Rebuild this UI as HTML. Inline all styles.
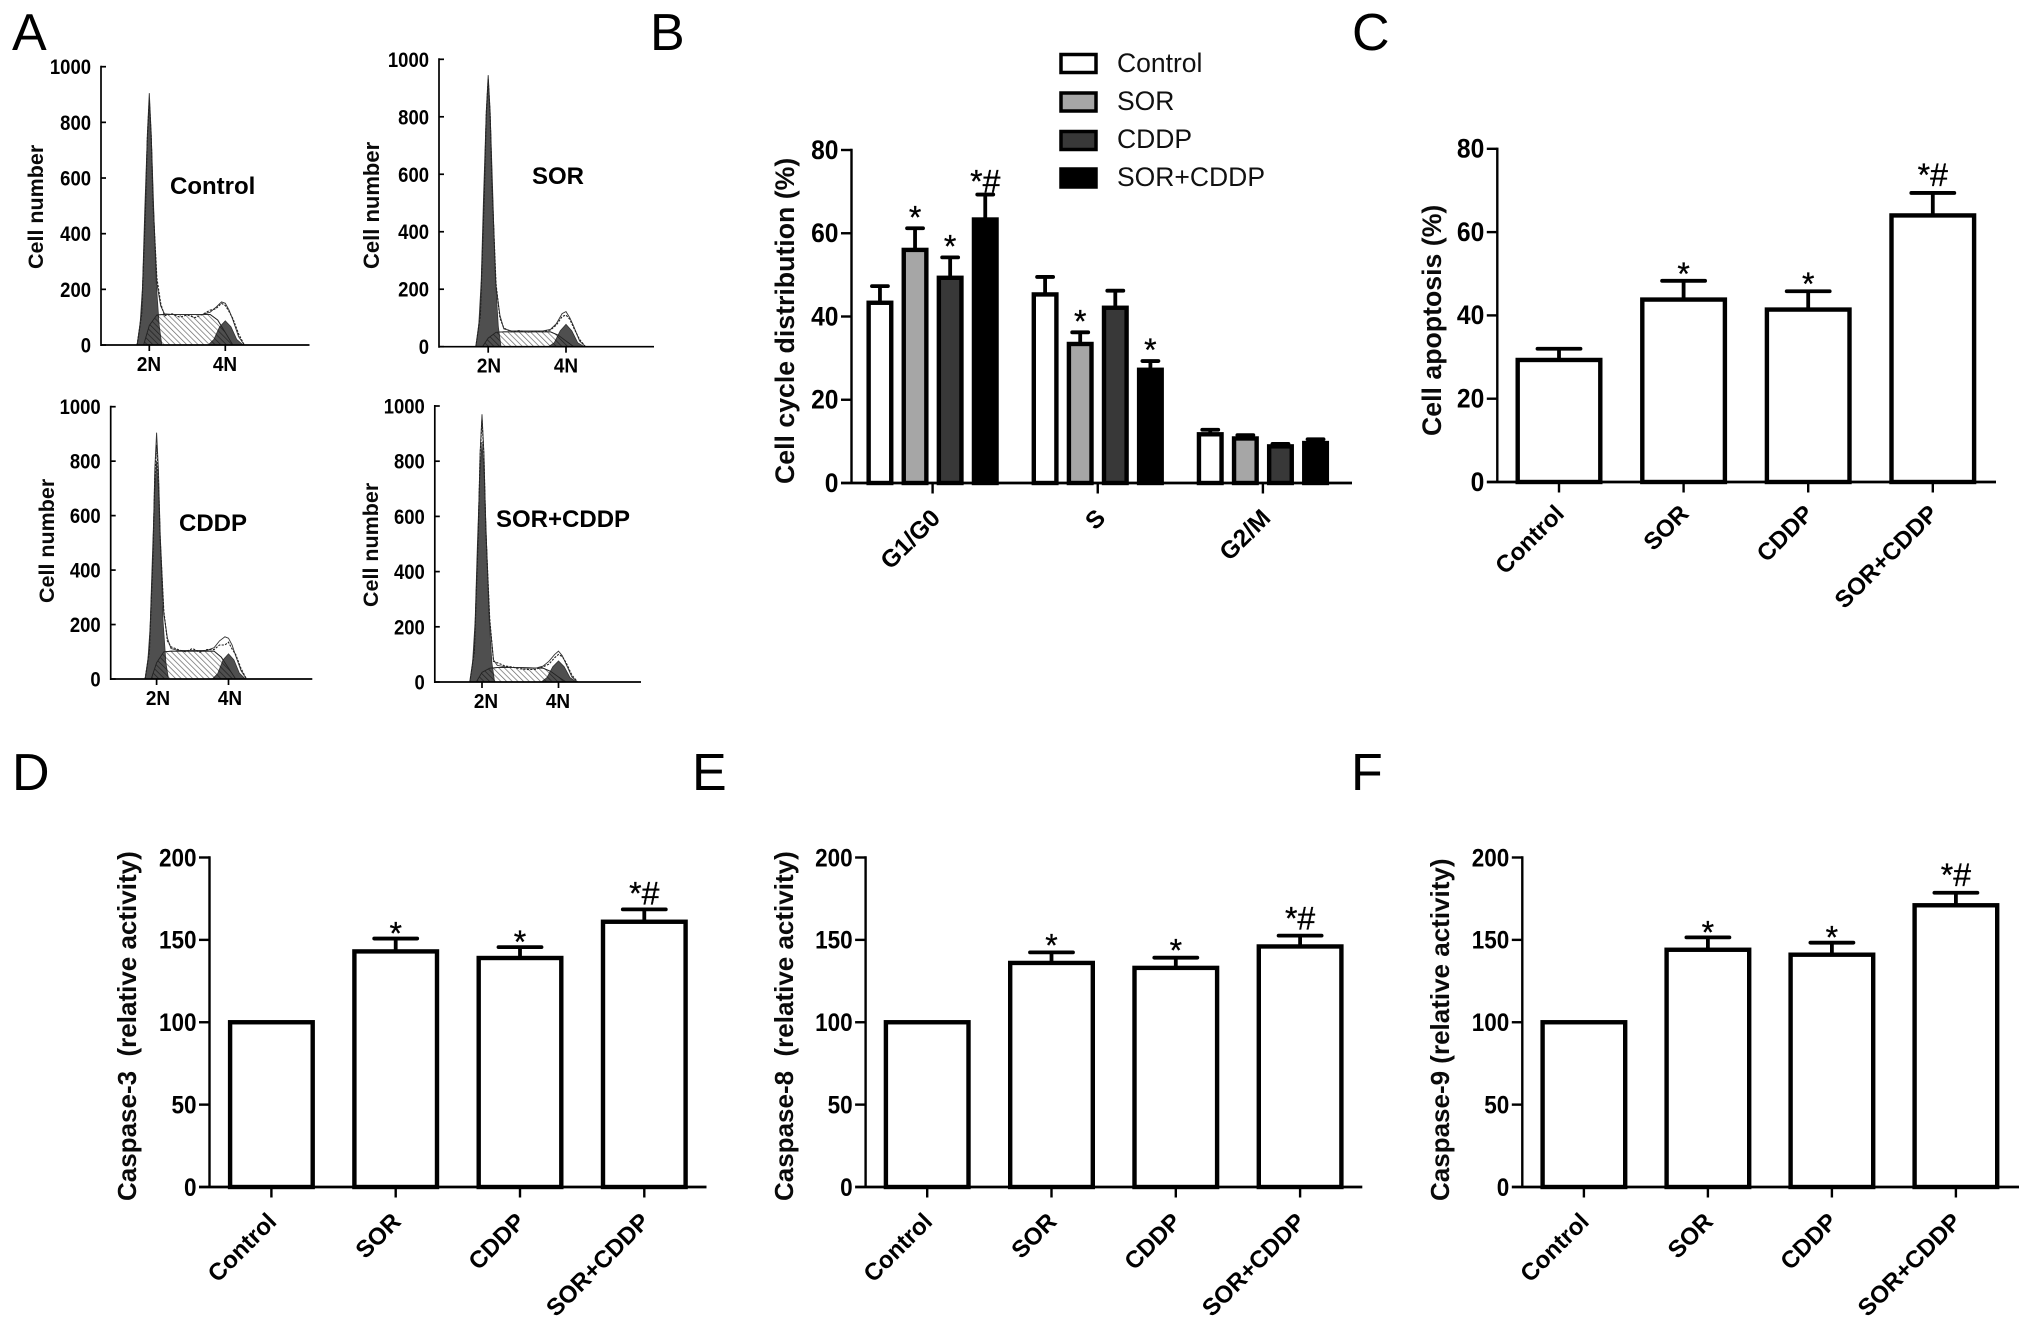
<!DOCTYPE html>
<html lang="en">
<head>
<meta charset="utf-8">
<title>Cell cycle, apoptosis and caspase activity figure</title>
<style>
html,body{margin:0;padding:0;background:#fff;}
svg{display:block;font-family:"Liberation Sans",Arial,sans-serif;}
.letter{font-size:52px;fill:#000;}
.ytitle{font-size:26px;font-weight:bold;fill:#0a0a0a;}
.atitle{font-size:21.5px;font-weight:bold;fill:#0a0a0a;}
.alabel{font-size:24px;font-weight:bold;fill:#000;}
.legend{font-size:26.5px;fill:#111;}
</style>
</head>
<body>
<svg id="figure" width="2031" height="1329" viewBox="0 0 2031 1329" xmlns="http://www.w3.org/2000/svg">
<defs>
<pattern id="hatch" patternUnits="userSpaceOnUse" width="4" height="4" patternTransform="rotate(-45)">
<line x1="0" y1="0" x2="0" y2="4" stroke="#000" stroke-opacity="0.6" stroke-width="1.4"/>
</pattern>
</defs>
<rect x="0" y="0" width="2031" height="1329" fill="#fff"/>

<text class="letter" x="12" y="50">A</text>
<text class="letter" x="650" y="50">B</text>
<text class="letter" x="1352" y="50">C</text>
<text class="letter" x="12" y="790">D</text>
<text class="letter" x="692" y="790">E</text>
<text class="letter" x="1351" y="790">F</text>

<text class="atitle" transform="translate(43,269) rotate(-90)">Cell number</text>
<text class="atitle" style="font-size:22px" transform="translate(379,269) rotate(-90)">Cell number</text>
<text class="atitle" transform="translate(54,603) rotate(-90)">Cell number</text>
<text class="atitle" transform="translate(378,607) rotate(-90)">Cell number</text>
<text class="alabel" x="170" y="194">Control</text>
<text class="alabel" x="532" y="184">SOR</text>
<text class="alabel" x="179" y="531">CDDP</text>
<text class="alabel" x="496" y="527">SOR+CDDP</text>

<text class="ytitle" style="font-size:26.7px" transform="translate(794,484) rotate(-90)">Cell cycle distribution (%)</text>
<text class="ytitle" style="font-size:26.7px" transform="translate(1441,436) rotate(-90)">Cell apoptosis (%)</text>
<text class="ytitle" transform="translate(136,1201) rotate(-90)">Caspase-3&#160;&#160;(relative activity)</text>
<text class="ytitle" transform="translate(793,1201) rotate(-90)">Caspase-8&#160;&#160;(relative activity)</text>
<text class="ytitle" transform="translate(1449,1201) rotate(-90)">Caspase-9 (relative activity)</text>

<g>
<rect x="1061" y="54.5" width="35" height="18" fill="#fff" stroke="#000" stroke-width="3.5"/>
<text class="legend" x="1117" y="72">Control</text>
<rect x="1061" y="93" width="35" height="18" fill="#a6a6a6" stroke="#000" stroke-width="3.5"/>
<text class="legend" x="1117" y="110">SOR</text>
<rect x="1061" y="131.5" width="35" height="18" fill="#383838" stroke="#000" stroke-width="3.5"/>
<text class="legend" x="1117" y="148">CDDP</text>
<rect x="1061" y="169" width="35" height="18" fill="#000" stroke="#000" stroke-width="3.5"/>
<text class="legend" x="1117" y="186">SOR+CDDP</text>
</g>
</svg>

<script>
// ---------- Bar chart data ----------
const groupLabels = ['Control', 'SOR', 'CDDP', 'SOR+CDDP'];
const significance = ['', '*', '*', '*#'];

const apoptosisTicks = [0, 20, 40, 60, 80];
const apoptosisValues = [29.3, 43.8, 41.4, 64];
const apoptosisErrors = [2.7, 4.5, 4.4, 5.4];

const caspaseTicks = [0, 50, 100, 150, 200];
const caspase3Values = [100, 143, 139, 161];
const caspase3Errors = [0, 7.8, 6.6, 7.5];
const caspase8Values = [100, 136, 133, 146];
const caspase8Errors = [0, 6.4, 6.2, 6.6];
const caspase9Values = [100, 144, 141, 171];
const caspase9Errors = [0, 7.5, 7.3, 7.6];

const cycleCategories = ['G1/G0', 'S', 'G2/M'];
const cycleTicks = [0, 20, 40, 60, 80];
const cycleControl = [43.3, 45.3, 11.7];
const cycleControlErr = [4, 4.2, 1.1];
const cycleSor = [56, 33.4, 10.7];
const cycleSorErr = [5.2, 2.8, 0.8];
const cycleCddp = [49.3, 42.1, 8.8];
const cycleCddpErr = [4.9, 4.1, 0.6];
const cycleCombo = [63.3, 27.2, 9.6];
const cycleComboErr = [6, 2.1, 0.9];
const cycleSorMarks = ['*', '*', ''];
const cycleCddpMarks = ['*', '', ''];
const cycleComboMarks = ['*#', '*', ''];

// ---------- Histogram data (x in DNA content N, y in cell number) ----------
const histTicks = [0, 200, 400, 600, 800, 1000];
const histXLabels = ['2N', '4N'];
const g1Channels = [1.68, 1.75, 1.82, 1.88, 1.94, 2, 2.06, 2.12, 2.18, 2.26, 2.33];
const sChannels = [1.85, 2, 2.2, 2.4, 3, 3.6, 3.8, 4, 4.2];
const g2Channels = [3.55, 3.7, 3.85, 4, 4.15, 4.3, 4.47];
const outlineChannels = [1.68, 1.8, 1.9, 1.95, 2, 2.05, 2.1, 2.2, 2.3, 2.4, 2.6, 2.8, 3, 3.2, 3.4, 3.6, 3.75, 3.9, 4, 4.1, 4.2, 4.35, 4.5];

const controlG1 = [0, 60, 210, 480, 720, 870, 720, 470, 230, 70, 0];
const controlS = [0, 70, 108, 110, 110, 110, 90, 45, 0];
const controlG2 = [0, 20, 65, 87, 65, 20, 0];
const controlModel = [0, 120, 500, 760, 905, 760, 520, 220, 140, 112, 110, 110, 110, 110, 110, 118, 135, 155, 150, 125, 90, 30, 0];
const controlData = [0, 110, 490, 750, 880, 750, 500, 240, 150, 105, 112, 100, 108, 98, 110, 125, 130, 150, 142, 120, 95, 40, 0];

const sorG1 = [0, 60, 230, 520, 780, 930, 780, 520, 250, 70, 0];
const sorS = [0, 30, 50, 52, 52, 52, 40, 20, 0];
const sorG2 = [0, 14, 55, 78, 55, 14, 0];
const sorModel = [0, 120, 540, 820, 945, 820, 560, 210, 110, 62, 55, 55, 55, 55, 55, 60, 80, 115, 122, 100, 70, 20, 0];
const sorData = [0, 110, 530, 810, 930, 810, 550, 220, 100, 65, 52, 56, 50, 54, 52, 58, 75, 105, 110, 95, 65, 25, 0];

const cddpG1 = [0, 55, 190, 440, 670, 800, 670, 440, 210, 60, 0];
const cddpS = [0, 60, 100, 102, 102, 102, 80, 40, 0];
const cddpG2 = [0, 20, 70, 92, 70, 22, 0];
const cddpModel = [0, 110, 470, 770, 905, 770, 530, 240, 150, 112, 105, 105, 105, 105, 105, 115, 140, 155, 150, 125, 85, 30, 0];
const cddpData = [0, 100, 450, 740, 860, 740, 510, 250, 140, 118, 108, 100, 112, 98, 108, 108, 125, 125, 135, 110, 90, 38, 0];

const comboG1 = [0, 60, 220, 500, 740, 870, 740, 500, 240, 70, 0];
const comboS = [0, 35, 50, 52, 52, 50, 38, 18, 0];
const comboG2 = [0, 16, 55, 76, 55, 16, 0];
const comboModel = [0, 120, 540, 830, 970, 830, 560, 220, 80, 60, 55, 52, 52, 50, 50, 58, 75, 100, 112, 95, 65, 18, 0];
const comboData = [0, 110, 530, 820, 950, 820, 550, 230, 75, 70, 58, 54, 48, 45, 46, 55, 65, 88, 100, 92, 70, 25, 0];

// ---------- Drawing ----------
const NS = 'http://www.w3.org/2000/svg';
const figure = document.getElementById('figure');

function make(tag, parent, attrs) {
  const el = document.createElementNS(NS, tag);
  for (const k in attrs) el.setAttribute(k, attrs[k]);
  parent.appendChild(el);
  return el;
}

function textAt(parent, str, x, y, size, weight, anchor, sx, rot) {
  const tf = 'translate(' + x + ',' + y + ')' + (rot ? ' rotate(' + rot + ')' : '') + (sx && sx !== 1 ? ' scale(' + sx + ',1)' : '');
  const el = make('text', parent, { transform: tf, 'font-size': size, 'font-weight': weight, 'text-anchor': anchor, fill: '#000' });
  el.textContent = str;
  return el;
}

function slug(s) {
  return String(s).toLowerCase().replace(/[^a-z0-9]+/g, '-');
}

function drawBar(g, prefix, cx, value, err, mark, fill, cfg, yOf) {
  const top = yOf(value);
  const s = cfg.stroke;
  const bar = make('rect', g, { x: cx - cfg.barW / 2 + s / 2, y: top, width: cfg.barW - s, height: cfg.y0 - top, fill: fill, stroke: '#000', 'stroke-width': s });
  
  
  const capY = yOf(value + err);
  if (err > 0) {
    const stem = make('line', g, { x1: cx, x2: cx, y1: top, y2: capY, stroke: '#000', 'stroke-width': 3.8 });
    
    
    const cap = make('line', g, { x1: cx - cfg.capW / 2, x2: cx + cfg.capW / 2, y1: capY, y2: capY, stroke: '#000', 'stroke-width': 3.8, 'stroke-linecap': 'round' });
    
    
  }
  if (mark) {
    const base = mark === '*' ? capY + cfg.starOffset : capY + cfg.hashOffset;
    const t = textAt(g, mark, cx, base, 32, 'normal', 'middle');
    t.setAttribute('stroke', '#000');
    t.setAttribute('stroke-width', '0.3');
    
    
  }
}

function drawAxes(g, cfg, ticks, yOf, xTicks, xLabels) {
  const yAxis = make('line', g, { x1: cfg.axisX, x2: cfg.axisX, y1: cfg.yTop - 1.2, y2: cfg.y0 + 1, stroke: '#000', 'stroke-width': 2.4 });
  
  
  const xAxis = make('line', g, { x1: cfg.axisX - 10.5, x2: cfg.xEnd, y1: cfg.y0, y2: cfg.y0, stroke: '#000', 'stroke-width': 2.7 });
  
  
  ticks.forEach(function (v) {
    const y = yOf(v);
    if (v !== 0) {
      const t = make('line', g, { x1: cfg.axisX - 10.5, x2: cfg.axisX, y1: y, y2: y, stroke: '#000', 'stroke-width': 2.4 });
      
      
    }
    const lab = textAt(g, String(v), cfg.axisX - 13, y + 8.8, cfg.tickSize, 'bold', 'end', cfg.tickSx);
    
    
  });
  xTicks.forEach(function (x, i) {
    const t = make('line', g, { x1: x, x2: x, y1: cfg.y0, y2: cfg.y0 + 10.5, stroke: '#000', 'stroke-width': 2.4 });
    
    
    const lab = textAt(g, xLabels[i], x + cfg.labelDx, cfg.y0 + cfg.labelDy, cfg.labelSize, 'bold', 'end', 1, -45);
    
    
  });
}

function drawBarPanel(name, cfg, ticks, values, errors) {
  const g = make('g', figure, {});
  
  
  const yMax = ticks[ticks.length - 1];
  const yOf = function (v) { return cfg.y0 - v / yMax * (cfg.y0 - cfg.yTop); };
  const xOf = function (i) { return cfg.x0 + i * cfg.step; };
  values.forEach(function (v, i) {
    drawBar(g, name + '-' + slug(groupLabels[i]), xOf(i), v, errors[i], significance[i], '#fff', cfg, yOf);
  });
  drawAxes(g, cfg, ticks, yOf, values.map(function (v, i) { return xOf(i); }), groupLabels);
}

function drawCyclePanel() {
  const cfg = { axisX: 851.5, xEnd: 1352, yTop: 150, y0: 483, barW: 27, capW: 16, stroke: 4.4, starOffset: 0, hashOffset: -2, labelDx: 9, labelDy: 36.5, labelSize: 24.5, tickSize: 26.5, tickSx: 0.93 };
  const g = make('g', figure, {});
  
  
  const yMax = cycleTicks[cycleTicks.length - 1];
  const yOf = function (v) { return cfg.y0 - v / yMax * (cfg.y0 - cfg.yTop); };
  const groupX = function (i) { return 932.6 + i * 165.15; };
  const barStep = 35.1;
  const series = [
    ['control', cycleControl, cycleControlErr, null, '#fff'],
    ['sor', cycleSor, cycleSorErr, cycleSorMarks, '#a6a6a6'],
    ['cddp', cycleCddp, cycleCddpErr, cycleCddpMarks, '#383838'],
    ['sor-cddp', cycleCombo, cycleComboErr, cycleComboMarks, '#000']
  ];
  series.forEach(function (s, si) {
    s[1].forEach(function (v, i) {
      const cx = groupX(i) + (si - 1.5) * barStep;
      drawBar(g, slug(cycleCategories[i]) + '-' + s[0], cx, v, s[2][i], s[3] ? s[3][i] : '', s[4], cfg, yOf);
    });
  });
  drawAxes(g, cfg, cycleTicks, yOf, cycleCategories.map(function (c, i) { return groupX(i); }), cycleCategories);
}

function polyPoints(channels, counts, xOf, yOf) {
  return channels.map(function (c, i) { return xOf(c).toFixed(1) + ',' + yOf(counts[i]).toFixed(1); }).join(' ');
}

function drawHistogram(name, cfg, g1, s, g2, model, data) {
  const g = make('g', figure, {});
  
  
  const yOf = function (v) { return cfg.y0 - v / 1000 * (cfg.y0 - cfg.yTop); };
  const xOf = function (c) { return cfg.x2 + (c - 2) * (cfg.x4 - cfg.x2) / 2; };

  const sBase = make('polygon', g, { points: polyPoints(sChannels, s, xOf, yOf), fill: '#fff', stroke: '#333', 'stroke-width': 0.9 });
  
  
  const g1Shape = make('polygon', g, { points: polyPoints(g1Channels, g1, xOf, yOf), fill: '#4f4f4f', stroke: '#333', 'stroke-width': 0.8 });
  
  
  const g2Shape = make('polygon', g, { points: polyPoints(g2Channels, g2, xOf, yOf), fill: '#4f4f4f', stroke: '#333', 'stroke-width': 0.8 });
  
  
  const hatch = make('polygon', g, { points: polyPoints(sChannels, s, xOf, yOf), fill: 'url(#hatch)', stroke: '#222', 'stroke-width': 0.9 });
  
  
  const modelLine = make('polyline', g, { points: polyPoints(outlineChannels, model, xOf, yOf), fill: 'none', stroke: '#333', 'stroke-width': 0.9 });
  
  
  const dataLine = make('polyline', g, { points: polyPoints(outlineChannels, data, xOf, yOf), fill: 'none', stroke: '#222', 'stroke-width': 1.1, 'stroke-dasharray': '2.2 1.3' });
  
  

  const yAxis = make('line', g, { x1: cfg.axisX, x2: cfg.axisX, y1: cfg.yTop - 1, y2: cfg.y0 + 1, stroke: '#000', 'stroke-width': 1.7 });
  
  
  const xAxis = make('line', g, { x1: cfg.axisX, x2: cfg.xEnd, y1: cfg.y0, y2: cfg.y0, stroke: '#000', 'stroke-width': 1.7 });
  
  
  histTicks.forEach(function (v) {
    const y = yOf(v);
    const t = make('line', g, { x1: cfg.axisX, x2: cfg.axisX + 5, y1: y, y2: y, stroke: '#000', 'stroke-width': 1.7 });
    
    
    const lab = textAt(g, String(v), cfg.axisX - 10, y + 7.5, 21, 'bold', 'end', 0.88);
    
    
  });
  histXLabels.forEach(function (txt, i) {
    const x = xOf(2 + 2 * i);
    const t = make('line', g, { x1: x, x2: x, y1: cfg.y0, y2: cfg.y0 + 6, stroke: '#000', 'stroke-width': 1.7 });
    
    
    const lab = textAt(g, txt, i === 0 ? cfg.label2 : cfg.label4, cfg.y0 + 26, 20, 'bold', 'middle', 0.95);
    
    
  });
}

drawHistogram('control', { axisX: 101, xEnd: 309.5, yTop: 66.7, y0: 345, x2: 149.3, x4: 225.3, label2: 149, label4: 225 }, controlG1, controlS, controlG2, controlModel, controlData);
drawHistogram('sor', { axisX: 439, xEnd: 654, yTop: 59.3, y0: 346.7, x2: 488.2, x4: 566, label2: 489, label4: 566 }, sorG1, sorS, sorG2, sorModel, sorData);
drawHistogram('cddp', { axisX: 110.7, xEnd: 312.3, yTop: 406.7, y0: 679, x2: 156.6, x4: 228.5, label2: 158, label4: 230 }, cddpG1, cddpS, cddpG2, cddpModel, cddpData);
drawHistogram('sor-cddp', { axisX: 434.8, xEnd: 641, yTop: 406, y0: 682, x2: 482, x4: 558.5, label2: 486, label4: 558 }, comboG1, comboS, comboG2, comboModel, comboData);

drawCyclePanel();

const topBarStyle = { barW: 87, capW: 43, stroke: 4.4, labelDx: 6.5 };
drawBarPanel('apoptosis', Object.assign({ axisX: 1497.3, xEnd: 1996, yTop: 148.8, y0: 482, x0: 1559, step: 124.6, labelDy: 33, labelSize: 24, tickSize: 26.5, tickSx: 0.93, starOffset: 4, hashOffset: -7 }, topBarStyle), apoptosisTicks, apoptosisValues, apoptosisErrors);
drawBarPanel('caspase-3', Object.assign({ axisX: 209.5, xEnd: 706.5, yTop: 857.5, y0: 1187, x0: 271.4, step: 124.3, labelDy: 36, labelSize: 24, tickSize: 25, tickSx: 0.9, starOffset: 6, hashOffset: -5 }, topBarStyle), caspaseTicks, caspase3Values, caspase3Errors);
drawBarPanel('caspase-8', Object.assign({ axisX: 865.6, xEnd: 1362.3, yTop: 857.5, y0: 1187, x0: 927.2, step: 124.3, labelDy: 36, labelSize: 24, tickSize: 25, tickSx: 0.9, starOffset: 4, hashOffset: -6 }, topBarStyle), caspaseTicks, caspase8Values, caspase8Errors);
drawBarPanel('caspase-9', Object.assign({ axisX: 1522.3, xEnd: 2019, yTop: 857.5, y0: 1187, x0: 1583.9, step: 124, labelDy: 36, labelSize: 24, tickSize: 25, tickSx: 0.9, starOffset: 6, hashOffset: -7 }, topBarStyle), caspaseTicks, caspase9Values, caspase9Errors);
</script>
</body>
</html>
